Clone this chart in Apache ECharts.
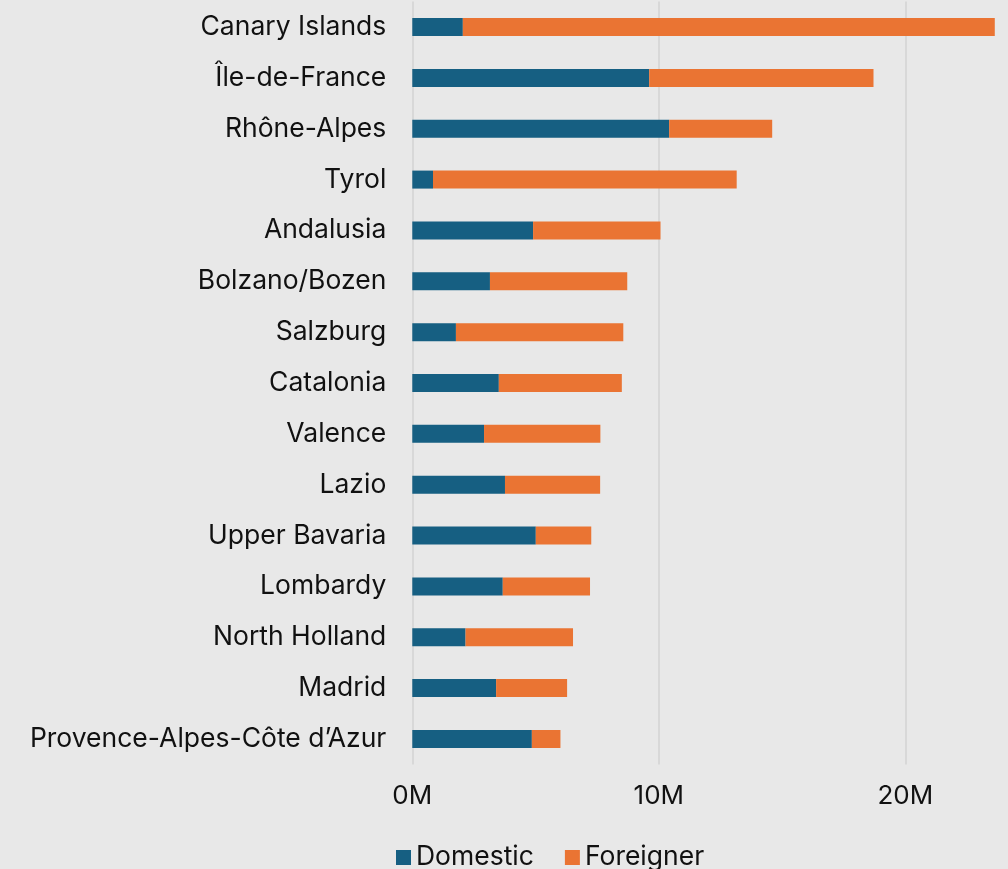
<!DOCTYPE html>
<html>
<head>
<meta charset="utf-8">
<script src="https://cdn.jsdelivr.net/npm/echarts@6/dist/echarts.min.js"></script>
<style>
  html, body { margin: 0; padding: 0; background: #e8e8e8; }
  #chart { width: 1008px; height: 869px; }
</style>
</head>
<body>
<div id="chart"></div>
<script>
// Overnight stays by region, in millions
const regions = [
  'Canary Islands', 'Île-de-France', 'Rhône-Alpes', 'Tyrol', 'Andalusia',
  'Bolzano/Bozen', 'Salzburg', 'Catalonia', 'Valence', 'Lazio',
  'Upper Bavaria', 'Lombardy', 'North Holland', 'Madrid',
  'Provence-Alpes-Côte d’Azur'
];
const domestic = [2.05, 9.61, 10.42, 0.84, 4.90, 3.15, 1.77, 3.51, 2.91, 3.76, 5.01, 3.67, 2.16, 3.40, 4.85];
const foreigner = [21.58, 9.10, 4.18, 12.32, 5.17, 5.57, 6.79, 4.99, 4.72, 3.86, 2.25, 3.54, 4.36, 2.88, 1.16];
const xTicks = [0, 10, 20];

const FONT = 'Inter, "Noto Sans", sans-serif';
const chart = echarts.init(document.getElementById('chart'), null, { renderer: 'canvas' });

chart.setOption({
  backgroundColor: '#e8e8e8',
  animation: false,
  textStyle: { fontFamily: FONT },
  grid: { left: 412.3, right: 4.1, top: 1.6, bottom: 104.6, containLabel: false },
  legend: {
    data: ['Domestic', 'Foreigner'],
    left: 391,
    top: 839,
    icon: 'rect',
    itemWidth: 15,
    itemHeight: 15,
    itemGap: 31,
    textStyle: { fontFamily: FONT, fontSize: 26.5, color: '#111' }
  },
  xAxis: {
    type: 'value',
    min: 0,
    max: 24,
    interval: 10,
    axisLine: { show: false },
    axisTick: { show: false },
    splitLine: { show: true, showMaxLine: false, lineStyle: { color: '#d8d8d8', width: 2 } },
    axisLabel: {
      showMaxLabel: false,
      margin: 19,
      fontFamily: FONT,
      fontSize: 26,
      color: '#111',
      formatter: v => (xTicks.indexOf(v) >= 0 ? v + 'M' : '')
    }
  },
  yAxis: {
    type: 'category',
    data: regions,
    inverse: true,
    axisLine: { show: false },
    axisTick: { show: false },
    splitLine: { show: false },
    axisLabel: { margin: 26, padding: [4, 0, 0, 0], fontFamily: FONT, fontSize: 26.5, color: '#111' }
  },
  series: [
    {
      name: 'Domestic',
      type: 'bar',
      stack: 'total',
      barWidth: 18,
      data: domestic,
      itemStyle: { color: '#165f82' }
    },
    {
      name: 'Foreigner',
      type: 'bar',
      stack: 'total',
      barWidth: 18,
      data: foreigner,
      itemStyle: { color: '#ea7433' }
    }
  ]
});
</script>
</body>
</html>
